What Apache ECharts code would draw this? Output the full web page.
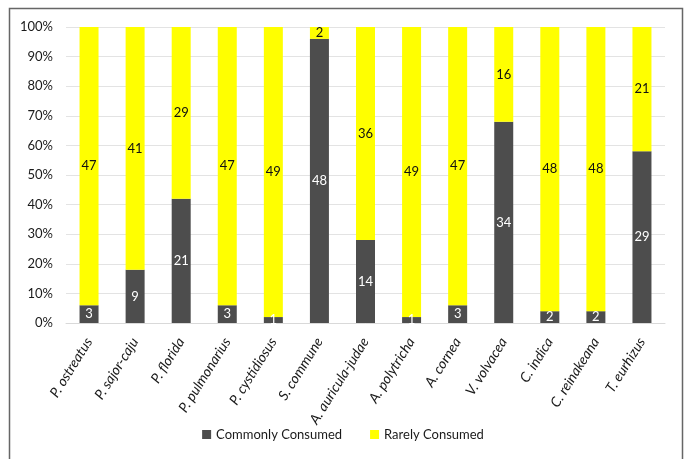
<!DOCTYPE html>
<html><head><meta charset="utf-8">
<script src="https://cdn.jsdelivr.net/npm/echarts@6/dist/echarts.min.js"></script>
<style>html,body{margin:0;padding:0;background:#fff}#c{width:686px;height:459px}</style>
</head><body><div id="c"></div>
<script>
const categories = ["P. ostreatus","P. sajor-caju","P. florida","P. pulmonarius","P. cystidiosus","S. commune","A. auricula-judae","A. polytricha","A. cornea","V. volvacea","C. indica","C. reinakeana","T. eurhizus"];
const commonly = [3,9,21,3,1,48,14,1,3,34,2,2,29];
const rarely = [47,41,29,47,49,2,36,49,47,16,48,48,21];
const yTicks = [0,10,20,30,40,50,60,70,80,90,100];

const totals = categories.map((_, i) => commonly[i] + rarely[i]);
const pct = (arr) => arr.map((v, i) => ({ value: v / totals[i] * 100, count: v }));
const font = "Lato, 'Open Sans', sans-serif";

const chart = echarts.init(document.getElementById('c'));
chart.setOption({
  animation: false,
  graphic: [{ type: 'rect', shape: { x: 9.5, y: 8.5, width: 673, height: 460 }, style: { fill: 'none', stroke: '#666666', lineWidth: 1.5 } }],
  grid: { left: 66, right: 21, top: 27, bottom: 136 },
  legend: {
    bottom: 13, left: 'center', itemWidth: 9, itemHeight: 9, itemGap: 28,
    icon: 'rect',
    textStyle: { fontFamily: font, fontSize: 13, color: '#1a1a1a' },
    data: ['Commonly Consumed', 'Rarely Consumed']
  },
  xAxis: {
    type: 'category', data: categories,
    axisLine: { lineStyle: { color: '#d9d9d9' } },
    axisTick: { show: false },
    axisLabel: { rotate: 58, interval: 0, fontStyle: 'italic', fontFamily: font, fontSize: 14, color: '#1a1a1a', margin: 16 }
  },
  yAxis: {
    type: 'value', min: yTicks[0], max: yTicks[yTicks.length - 1], interval: 10,
    axisLabel: { formatter: '{value}%', fontFamily: font, fontSize: 13, color: '#1a1a1a', margin: 13 },
    splitLine: { lineStyle: { color: '#e3e3e3' } },
    axisLine: { show: false }, axisTick: { show: false }
  },
  series: [
    { name: 'Commonly Consumed', type: 'bar', stack: 's', barWidth: 19,
      itemStyle: { color: '#4d4d4d' },
      label: { show: true, position: 'inside', color: '#ffffff', fontFamily: font, fontSize: 13, formatter: p => p.data.count },
      data: pct(commonly) },
    { name: 'Rarely Consumed', type: 'bar', stack: 's', barWidth: 19,
      itemStyle: { color: '#ffff00' },
      label: { show: true, position: 'inside', color: '#111111', fontFamily: font, fontSize: 13, formatter: p => p.data.count },
      data: pct(rarely) }
  ]
});
</script></body></html>
